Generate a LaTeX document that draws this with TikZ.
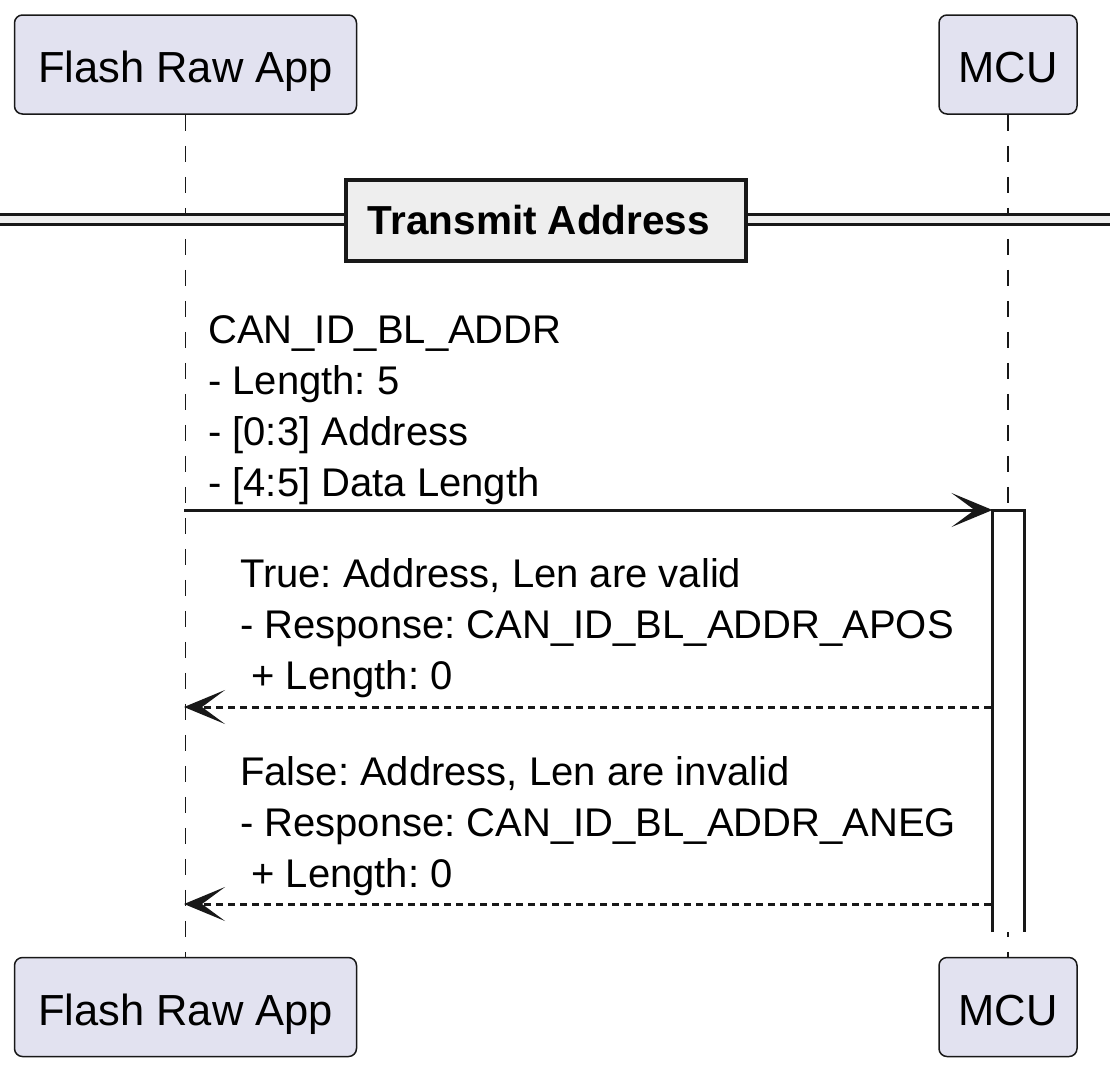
\documentclass[tikz,border=0pt]{standalone}
\usepackage{fontspec}
\setmainfont{Liberation Sans}
\frenchspacing
\usetikzlibrary{arrows.meta}
\definecolor{partfill}{RGB}{226,226,240}
\definecolor{umlline}{RGB}{24,24,24}
\definecolor{divfill}{RGB}{238,238,238}
\tikzset{
  participant/.style={draw=umlline,fill=partfill,line width=1.5pt,rounded corners=8pt,
    minimum height=99pt,inner sep=0pt,text height=36pt,text depth=0pt,
    font=\fontsize{43.5}{50}\selectfont},
  lifeline/.style={draw=umlline,line width=1.5pt,dash pattern=on 16pt off 15pt},
  msgtext/.style={anchor=base west,inner sep=0pt,font=\fontsize{40}{51}\selectfont},
  umltip/.style={-{Stealth[length=41pt 0,width=34pt 0,inset=23pt 0]}},
  call/.style={umltip,draw=umlline,line width=3pt},
  reply/.style={umltip,draw=umlline,line width=3pt,dash pattern=on 7pt off 5pt}
}
\begin{document}
\begin{tikzpicture}[x=1pt,y=-1pt]
\useasboundingbox (0,0) rectangle (1110,1072);
            % Participants
\node[participant,minimum width=342pt] (flashT) at (185.5,64.5 ) {Flash Raw App};
\node[participant,minimum width=138pt] (mcuT)   at (1008 ,64.5 ) {MCU};
\node[participant,minimum width=342pt] (flashB) at (185.5,1007 ) {Flash Raw App};
\node[participant,minimum width=138pt] (mcuB)   at (1008 ,1007 ) {MCU};
%Lifelines
\draw[lifeline] (flashT.south) -- (flashB.north);
\draw[lifeline] (mcuT.south)   -- (mcuB.north);
%Divider
\fill[divfill] (0,214.5) rectangle (1110,224.5);
\draw[umlline,line width=3pt] (0,214.5) -- (1110,214.5);
\draw[umlline,line width=3pt] (0,224.5) -- (1110,224.5);
\node[draw=umlline,fill=divfill,line width=4pt,minimum width=400pt,minimum height=81pt,
  text height=29pt,text depth=0pt,
  font=\fontsize{40.5}{48}\selectfont\bfseries] (divider) at (546,220) {\hspace*{-14pt}Transmit Address};
%Activation
\coordinate (actTL) at (992.5,510);
\coordinate (actTR) at (1024 ,510);
\coordinate (actBL) at (992.5,932);
\coordinate (actBR) at (1024 ,932);
\fill[white] (actTL) rectangle (actBR);
\draw[umlline,line width=3pt] (actBL) -- (actTL) -- (actTR) -- (actBR);
%Messages
\coordinate (m1s) at (184,510);
\coordinate (m2s) at (991,707);
\coordinate (m3s) at (991,904);
\coordinate (m2e) at (184,707);
\coordinate (m3e) at (184,904);
\node[msgtext] (m1a) at (208,343) {CAN\_ID\_BL\_ADDR};
\node[msgtext] (m1b) at (208,394) {- Length: 5};
\node[msgtext] (m1c) at (208,445) {- [0:3] Address};
\node[msgtext] (m1d) at (208,496) {- [4:5] Data Length};
\draw[call] (m1s) -- (actTL);
\node[msgtext] (m2a) at (240,587) {True: Address, Len are valid};
\node[msgtext] (m2b) at (240,638) {- Response: CAN\_ID\_BL\_ADDR\_APOS};
\node[msgtext] (m2c) at (240,689) {\hspace*{.278em}+ Length: 0};
\draw[reply] (m2s) -- (m2e);
\node[msgtext] (m3a) at (240,785) {False: Address, Len are invalid};
\node[msgtext] (m3b) at (240,836) {- Response: CAN\_ID\_BL\_ADDR\_ANEG};
\node[msgtext] (m3c) at (240,887) {\hspace*{.278em}+ Length: 0};
\draw[reply] (m3s) -- (m3e);

\end{tikzpicture}
\end{document}
